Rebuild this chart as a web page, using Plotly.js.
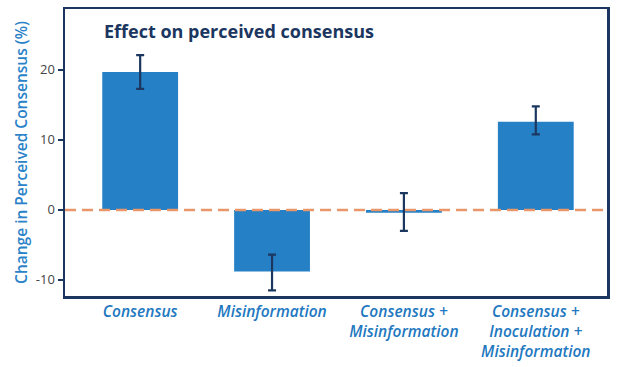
<!DOCTYPE html>
<html>
<head>
<meta charset="utf-8">
<script src="https://cdn.plot.ly/plotly-3.0.1.min.js"></script>
<style>
html,body{margin:0;padding:0;background:#fff;}
#chart{width:620px;height:367px;}
</style>
</head>
<body>
<div id="chart"></div>
<script>
const categories = ["Consensus", "Misinformation", "Consensus +<br>Misinformation", "Consensus +<br>Inoculation +<br>Misinformation"];
const changeValues = [19.7, -8.8, -0.4, 12.6];
const errPlus = [2.4, 2.4, 2.8, 2.2];
const errMinus = [2.4, 2.7, 2.6, 1.8];
const yTickVals = [-10, 0, 10, 20];
const titleText = "Effect on perceived consensus";
const yTitleText = "Change in Perceived Consensus (%)";

const navy = "#1b365f";
const blue = "#2680c6";

const trace = {
  type: "bar",
  x: categories,
  y: changeValues,
  width: 0.575,
  marker: {color: blue},
  error_y: {
    type: "data",
    symmetric: false,
    array: errPlus,
    arrayminus: errMinus,
    color: navy,
    thickness: 2.2,
    width: 4
  },
  hoverinfo: "none"
};

const layout = {
  width: 620,
  height: 367,
  margin: {l: 65, r: 13, t: 9, b: 71},
  paper_bgcolor: "#fff",
  plot_bgcolor: "#fff",
  showlegend: false,
  font: {family: "'Open Sans', sans-serif"},
  xaxis: {
    type: "category",
    range: [-0.57, 3.54],
    showgrid: false,
    zeroline: false,
    showline: true,
    mirror: true,
    linecolor: navy,
    linewidth: 2.5,
    ticks: "",
    tickfont: {family: "'Open Sans', sans-serif", size: 15.5, color: "#2278c0", style: "italic", weight: 600}
  },
  yaxis: {
    range: [-12.3, 28.7],
    tickvals: yTickVals,
    ticktext: yTickVals.map(String),
    showgrid: false,
    zeroline: false,
    showline: true,
    mirror: true,
    linecolor: navy,
    linewidth: 2.5,
    ticks: "outside",
    ticklen: 5,
    tickwidth: 2,
    tickcolor: navy,
    tickfont: {family: "'Open Sans', sans-serif", size: 13, color: "#444"},
    title: {text: yTitleText, font: {family: "'Open Sans', sans-serif", size: 15.5, color: "#2a82c8", weight: 600}, standoff: 5}
  },
  shapes: [{
    type: "line",
    xref: "paper", yref: "y",
    x0: 0, x1: 1, y0: 0, y1: 0,
    line: {color: "#e8966a", width: 2.5, dash: "11px,6px"},
    layer: "above"
  }],
  annotations: [{
    text: "<b>" + titleText + "</b>",
    xref: "paper", yref: "paper",
    x: 0.068, y: 0.925,
    xanchor: "left", yanchor: "middle",
    showarrow: false,
    font: {family: "'Open Sans', sans-serif", size: 18, color: navy}
  }]
};

Plotly.newPlot("chart", [trace], layout, {displayModeBar: false, staticPlot: true});
</script>
</body>
</html>
